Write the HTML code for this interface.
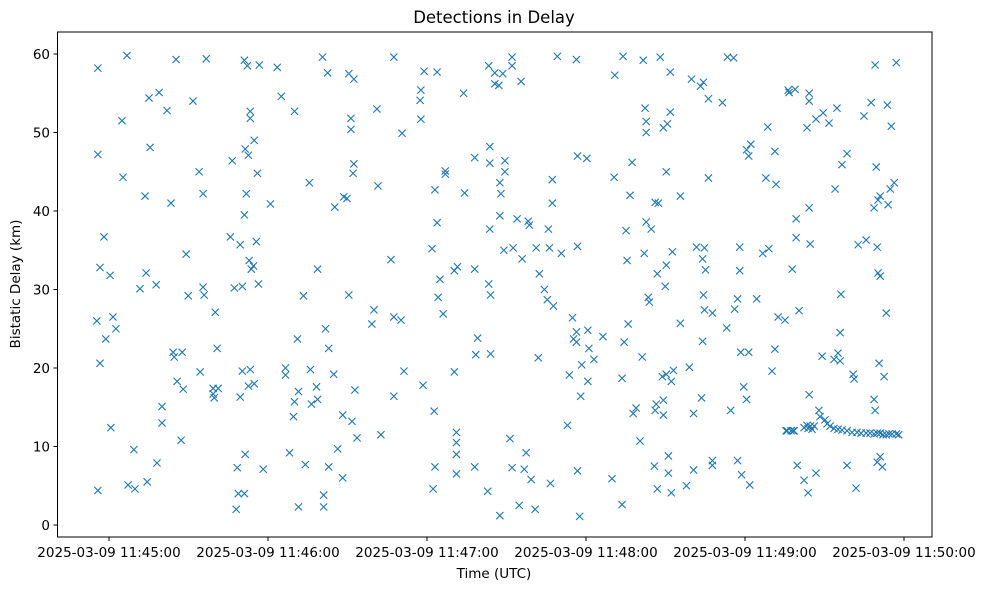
<!DOCTYPE html>
<html><head><meta charset="utf-8"><style>
html,body{margin:0;padding:0;background:#fff;}
svg{display:block;font-family:"DejaVu Sans","Liberation Sans",sans-serif;}
</style></head><body>
<svg id="chart" width="986" height="590">
<rect x="0" y="0" width="986" height="590" fill="#fff"/>
<text x="494" y="23" font-size="16.5" text-anchor="middle">Detections in Delay</text>
<g id="marks"></g>
<g id="axes"></g>
<rect x="57.5" y="32" width="874.5" height="505" fill="none" stroke="#000" stroke-width="1"/>
<text x="494" y="578" font-size="13.5" text-anchor="middle">Time (UTC)</text>
<text transform="translate(20,284) rotate(-90)" font-size="13.5" text-anchor="middle">Bistatic Delay (km)</text>
</svg>
<script>
// seconds after 2025-03-09 11:45:03, bistatic delay in km
const points = [
[-7.2,58.2],[-7.2,47.2],[-7.6,26],[-6.4,32.8],[-6.4,20.6],[-7.2,4.4],[-4.9,36.7],[-4.2,23.7],[-2.6,31.8],[-2.3,12.4],
[-1.5,26.5],[-0.4,25],[1.9,51.5],[2.3,44.3],[3.8,59.8],[4.2,5.1],[6.4,9.6],[6.8,4.6],[8.7,30.1],[10.6,41.9],
[11,32.1],[11.4,5.5],[12.1,54.4],[12.5,48.1],[14.8,30.6],[15.1,7.9],[15.9,55.1],[17,15.1],[17,13],[18.9,52.8],
[20.4,41],[21.2,22],[21.6,21.4],[22.3,59.3],[22.7,18.3],[24.2,10.8],[24.6,22],[25,17.3],[26.1,34.5],[26.9,29.2],
[28.7,54],[31,45],[31.4,19.5],[32.5,30.3],[32.5,42.2],[32.9,29.3],[33.7,59.4],[36.3,17.4],[36.3,16.7],[36.7,16.2],
[37.1,27.1],[37.8,22.5],[38.2,17.4],[42.8,36.7],[43.5,46.4],[44.3,30.2],[45,2],[45.4,7.3],[45.8,4],[46.5,16.3],
[47.3,19.6],[47.3,30.4],[46.5,35.7],[48.1,39.5],[48.1,4],[48.1,59.2],[48.4,47.9],[48.4,9],[48.8,42.2],[49.2,58.5],
[49.6,17.7],[49.6,47.1],[49.9,33.7],[50.3,51.8],[50.3,52.7],[50.3,19.8],[50.7,32.6],[51.5,33],[51.8,49],[51.8,18],
[52.6,36.1],[53,44.8],[53.7,58.6],[53.4,30.7],[55.2,7.1],[57.9,40.9],[60.5,58.3],[62,54.6],[63.6,20],[63.6,19.1],
[65.1,9.2],[66.6,13.8],[67,52.7],[67,15.7],[68.1,23.7],[68.5,17],[68.5,2.3],[70.4,29.2],[71.1,7.7],[72.6,43.6],
[73,19.8],[73.4,15.4],[75.3,17.6],[75.7,32.6],[75.7,16],[77.6,59.6],[78,2.3],[78,3.8],[78.7,25],[79.5,57.6],
[79.9,22.5],[79.9,7.4],[81.8,19.2],[82.2,40.5],[83.3,9.7],[85.2,14],[85.2,6],[85.6,41.8],[86.8,41.6],[87.5,29.3],
[88.3,51.8],[88.3,50.4],[87.5,57.5],[89.4,56.8],[89.1,44.8],[89.4,46],[89.8,17.2],[90.6,11.1],[88.7,13.2],[96.2,25.6],
[97,27.4],[98.1,53],[98.5,43.2],[99.6,11.5],[103.4,33.8],[104.5,16.4],[104.5,59.6],[104.5,26.5],[107.2,26.1],[107.6,49.9],
[108.3,19.6],[114.4,54.1],[114.7,51.7],[114.7,55.4],[115.5,17.8],[115.9,57.8],[118.9,35.2],[119.3,4.6],[119.7,14.5],[120,7.4],
[120,42.7],[120.8,57.7],[120.8,38.5],[121.2,29],[121.9,31.3],[123.1,26.9],[123.9,44.7],[123.9,45.1],[128.1,11.8],[128.1,10.5],
[128.1,6.5],[128.1,9],[127.3,19.5],[127.3,32.4],[128.5,32.9],[130.8,55],[131.2,42.3],[135,46.8],[135,32.6],[135.4,21.7],
[135,7.4],[136.1,23.8],[139.9,4.3],[140.3,58.5],[140.3,30.7],[140.7,48.2],[140.7,46.1],[140.7,37.7],[141,29.3],[141,21.8],
[142.6,56.2],[142.6,57.6],[144.1,56],[144.5,1.2],[144.5,43.6],[144.9,42.2],[144.5,39.4],[145.6,57.5],[146,35],[146.4,46.4],
[146.4,45],[148.3,11],[149.1,58.5],[149.1,59.6],[149.1,7.3],[149.5,35.3],[151,39],[151.8,2.5],[152.5,56.5],[152.9,33.9],
[153.7,7.1],[154.4,9.2],[155.2,38.7],[155.6,38.2],[156.3,5.8],[157.8,2],[158.2,35.3],[159,21.3],[159.4,32],[161.3,30],
[162.4,28.7],[162.8,37.7],[163.2,35.3],[163.6,5.3],[164.3,41],[164.7,27.9],[164.3,44],[166.2,59.7],[167.7,34.6],[170,12.7],
[170.7,19.1],[171.9,26.4],[172.3,23.7],[173.4,24.6],[173.4,23.3],[173.4,59.3],[173.8,35.5],[173.8,47],[174.6,1.1],[173.8,6.9],
[175,16.4],[175.4,20.4],[177.3,46.7],[177.7,18.3],[178.1,22.5],[177.7,24.8],[180,21.1],[183.4,24],[186.8,5.9],[187.6,44.3],
[187.9,57.3],[190.6,2.6],[190.6,18.7],[191,59.7],[191.4,23.3],[192.1,37.5],[192.5,33.7],[192.9,25.6],[193.6,42],[194.4,46.2],
[194.8,14.2],[195.9,14.9],[197.4,10.7],[198.2,21.4],[198.6,59.2],[199,34.6],[199.3,53.1],[199.7,38.6],[199.7,50],[199.7,51.4],
[200.5,29],[200.9,28.4],[201.6,37.7],[202.8,7.5],[203.1,41.1],[203.1,14.6],[203.5,15.4],[203.9,4.6],[203.9,32],[204.3,41],
[205,59.6],[205.8,18.9],[206.2,50.6],[206.2,14],[206.2,15.9],[206.9,30.4],[207.3,19.2],[207.7,51.1],[207.3,45],[207.3,33.1],
[208.1,8.8],[208.1,6.6],[208.8,57.7],[208.8,52.6],[209.2,18.3],[209.2,4.1],[209.6,34.8],[210,19.7],[212.6,41.9],[212.6,25.7],
[214.9,5],[216,20.1],[216.8,56.8],[217.6,7],[217.6,14.2],[218.7,35.4],[220.2,55.9],[221,23.4],[220.6,16.2],[221,33.9],
[221.3,56.4],[221.3,29.3],[221.7,35.3],[221.7,27.4],[222.1,32.5],[223.2,54.3],[223.2,44.2],[224.7,27],[224.7,8.2],[224.7,7.6],
[228.5,53.8],[230.1,25.1],[230.4,59.6],[231.6,14.6],[232.7,59.5],[233.1,27.5],[234.2,28.8],[234.2,8.2],[235,35.4],[235,32.4],
[235.4,22],[235.7,6.4],[236.5,17.6],[237.6,47.8],[237.6,16],[238.4,22],[238.4,47],[238.8,5.1],[239.2,48.5],[241.4,28.8],
[243.7,34.6],[244.9,44.2],[245.6,50.7],[246,35.2],[247.2,19.6],[248.3,22.4],[248.3,47.6],[248.7,43.4],[249.5,26.5],[252.1,26.1],
[252.9,12],[253.3,55.4],[253.6,55.1],[254.8,32.6],[255.2,12],[255.9,55.5],[256.3,36.6],[256.3,39],[256.7,7.6],[257.4,27.3],
[259.3,5.7],[260.4,50.6],[260.8,4.1],[261.2,55],[261.2,40.4],[261.2,16.6],[261.6,35.8],[261.2,54],[263.8,51.7],[263.8,6.6],
[264.9,14.6],[266.1,21.5],[266.5,52.5],[268,12.9],[268.7,51.2],[270.6,21.1],[271,42.8],[271.7,53.1],[272.1,21.9],[272.9,20.9],
[272.9,24.5],[273.2,29.4],[273.6,45.9],[275.5,47.3],[275.5,7.6],[277.8,19.2],[278.2,18.6],[278.9,4.7],[279.7,35.7],[281.9,52.1],
[282.7,36.3],[284.6,53.8],[285.7,16],[285.7,40.4],[286.1,58.6],[286.1,14.6],[286.5,45.6],[286.9,35.4],[286.9,8],[287.2,41.4],
[287.2,32.1],[288,8.7],[287.6,20.6],[288,41.9],[288,31.7],[288.8,7.4],[289.5,18.9],[290.3,27],[290.7,53.5],[291,40.8],
[291.8,42.8],[292.2,50.8],[293.3,43.6],[294.1,58.9],
// dense track near 12 km
[252.5,12],[254.4,12],[255.5,12],[259.3,12.4],[260.4,12.7],[260.8,12.3],[261.6,12.6],[262.3,12.2],[263.1,12.6],[265.3,13.8],
[267.2,13.4],[269.1,12.6],[270.6,12.3],[272.1,12.2],[273.6,12.1],[275.5,12],[277.4,11.8],[279.3,11.8],[280.8,11.7],[282.7,11.7],
[284.2,11.7],[285.7,11.6],[286.9,11.7],[288,11.7],[289.1,11.5],[290.3,11.5],[291.4,11.6],[292.5,11.6],[294.1,11.6],[295,11.5]
];
// tick positions in the same time base (seconds after 11:45:03)
const xTickSeconds = [-3,57,117,177,237,297];
const xTickLabels = ["2025-03-09 11:45:00","2025-03-09 11:46:00","2025-03-09 11:47:00","2025-03-09 11:48:00","2025-03-09 11:49:00","2025-03-09 11:50:00"];
const yTicks = [0,10,20,30,40,50,60];

const NS = "http://www.w3.org/2000/svg";
function xScale(s){ return 109 + (s + 3) * (795/300); }
function yScale(v){ return 525 - v * (471/60); }
const marks = document.getElementById('marks');
const axes = document.getElementById('axes');

points.forEach(function(p){
  const cx = xScale(p[0]), cy = yScale(p[1]), r = 3.6;
  const path = document.createElementNS(NS,'path');
  path.setAttribute('d','M'+(cx-r)+' '+(cy-r)+'L'+(cx+r)+' '+(cy+r)+'M'+(cx-r)+' '+(cy+r)+'L'+(cx+r)+' '+(cy-r));
  path.setAttribute('stroke','#1f77b4');
  path.setAttribute('stroke-width','1.1');
  path.setAttribute('fill','none');
  
  
  marks.appendChild(path);
});

xTickSeconds.forEach(function(s,i){
  const x = xScale(s);
  const t = document.createElementNS(NS,'line');
  t.setAttribute('x1',x); t.setAttribute('x2',x); t.setAttribute('y1',537); t.setAttribute('y2',541);
  t.setAttribute('stroke','#000');
  
  
  axes.appendChild(t);
  const lb = document.createElementNS(NS,'text');
  lb.setAttribute('x',x); lb.setAttribute('y',557); lb.setAttribute('font-size','13.5'); lb.setAttribute('text-anchor','middle');
  lb.textContent = xTickLabels[i];
  
  
  axes.appendChild(lb);
});
yTicks.forEach(function(v){
  const y = yScale(v);
  const t = document.createElementNS(NS,'line');
  t.setAttribute('x1',53.5); t.setAttribute('x2',57.5); t.setAttribute('y1',y); t.setAttribute('y2',y);
  t.setAttribute('stroke','#000');
  
  
  axes.appendChild(t);
  const lb = document.createElementNS(NS,'text');
  lb.setAttribute('x',50); lb.setAttribute('y',y+5); lb.setAttribute('font-size','13.5'); lb.setAttribute('text-anchor','end');
  lb.textContent = String(v);
  
  
  axes.appendChild(lb);
});
</script>
</body></html>
